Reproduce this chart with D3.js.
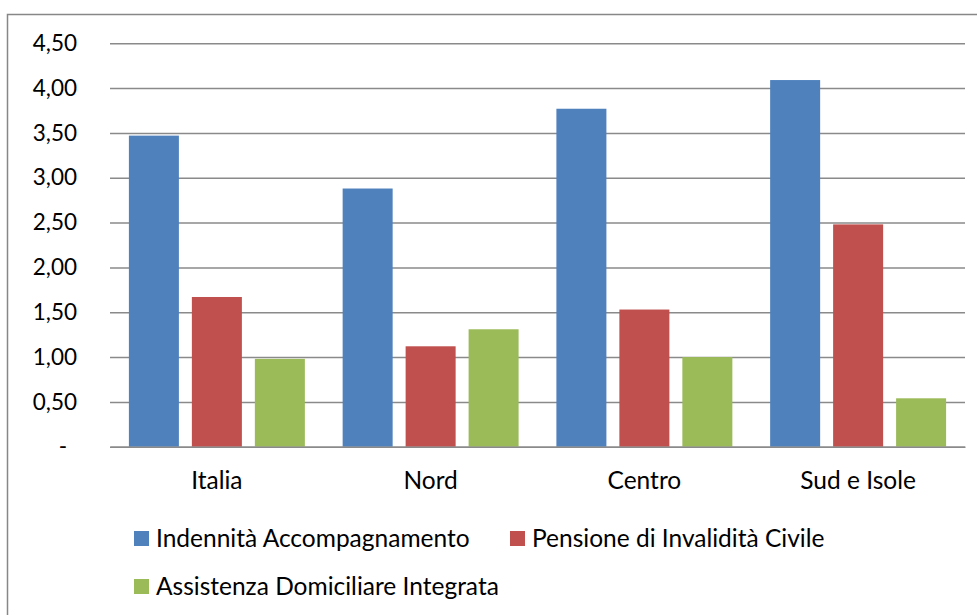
<!DOCTYPE html>
<html>
<head>
<meta charset="utf-8">
<script src="https://cdn.jsdelivr.net/npm/d3@7"></script>
<style>
  html, body { margin: 0; padding: 0; background: #fff; }
  svg { display: block; }
  text { font-family: Lato, "Open Sans", sans-serif; fill: #000; }
</style>
</head>
<body>
<svg id="chart" width="977" height="615"></svg>
<script>
const categories = ["Italia", "Nord", "Centro", "Sud e Isole"];
const seriesNames = ["Indennità Accompagnamento", "Pensione di Invalidità Civile", "Assistenza Domiciliare Integrata"];
const indennita = [3.47, 2.88, 3.77, 4.09];
const pensione = [1.67, 1.12, 1.53, 2.48];
const adi = [0.98, 1.31, 1.00, 0.54];
const yTicks = [0, 0.5, 1, 1.5, 2, 2.5, 3, 3.5, 4, 4.5];
const colors = ["#4F81BD", "#C0504D", "#9BBB59"];

const seriesValues = [indennita, pensione, adi];
const svg = d3.select("#chart");
const yFontSize = 22.5;
const fontSize = 24.5;

// outer border
svg.append("rect")
  .attr("x", 7.5).attr("y", 14.5)
  .attr("width", 990).attr("height", 620)
  .attr("fill", "#fff").attr("stroke", "#878787").attr("stroke-width", 1.5);

const plot = { left: 110, right: 965, top: 43.3, bottom: 446.7 };

const y = d3.scaleLinear().domain([0, 4.5]).range([plot.bottom, plot.top]);
const x0 = d3.scaleBand().domain(categories).range([plot.left, plot.right]).padding(0);
const x1 = d3.scaleBand().domain(d3.range(seriesNames.length))
  .range([0, x0.bandwidth()]).paddingInner(0.206).paddingOuter(0.3);

// gridlines
const fmt = v => v === 0 ? "-" : d3.format(".2f")(v).replace(".", ",");
const yAxis = d3.axisLeft(y).tickValues(yTicks).tickSize(-(plot.right - plot.left)).tickFormat(fmt).tickPadding(33);
const gy = svg.append("g").attr("transform", `translate(${plot.left},0)`).call(yAxis);
gy.select(".domain").remove();
gy.selectAll(".tick line").attr("stroke", "#8a8a8a").attr("stroke-width", 1.5);
gy.selectAll(".tick text").attr("font-size", yFontSize).attr("fill", "#000")
  .attr("font-family", "Lato, 'Open Sans', sans-serif");
gy.selectAll(".tick text").filter(d => d === 0).attr("dx", -10);

// bars
const groups = svg.append("g").selectAll("g").data(categories).join("g")
  .attr("transform", d => `translate(${x0(d)},0)`);
groups.selectAll("rect")
  .data((c, ci) => seriesValues.map((vals, si) => ({ si, v: vals[ci] })))
  .join("rect")
  .attr("x", d => x1(d.si))
  .attr("width", x1.bandwidth())
  .attr("y", d => y(d.v))
  .attr("height", d => y(0) - y(d.v))
  .attr("fill", d => colors[d.si]);

// x axis baseline
const xAxis = d3.axisBottom(x0).tickSize(0).tickPadding(25);
const gx = svg.append("g").attr("transform", `translate(0,${plot.bottom})`).call(xAxis);
gx.select(".domain").attr("stroke", "#8a8a8a").attr("stroke-width", 1.5);
gx.selectAll(".tick text").attr("font-size", fontSize).attr("fill", "#000")
  .attr("font-family", "Lato, 'Open Sans', sans-serif");

// legend
const legendPos = [
  { x: 134, y: 531 },
  { x: 510, y: 531 },
  { x: 134, y: 579 }
];
const lg = svg.append("g").selectAll("g").data(seriesNames).join("g")
  .attr("transform", (d, i) => `translate(${legendPos[i].x},${legendPos[i].y})`);
lg.append("rect").attr("width", 15).attr("height", 15).attr("fill", (d, i) => colors[i]);
lg.append("text").attr("x", 22).attr("y", 15.5).attr("font-size", fontSize).text(d => d);
</script>
</body>
</html>
